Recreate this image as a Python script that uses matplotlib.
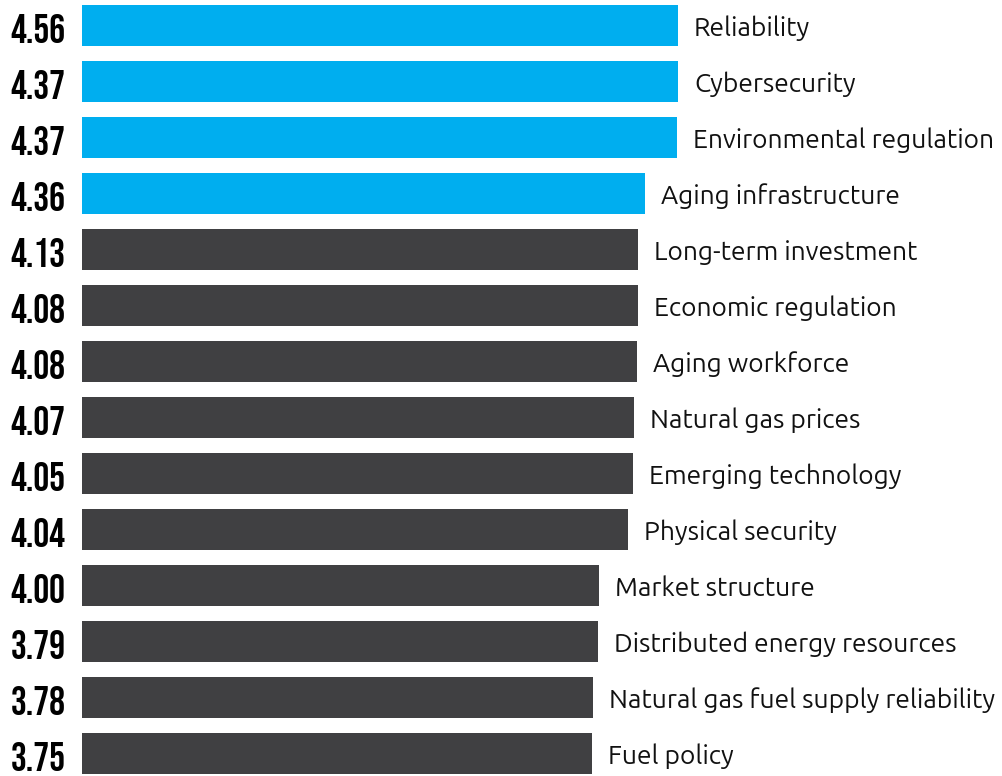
import matplotlib
matplotlib.use("Agg")
from matplotlib import pyplot as plt

labels = ["Reliability", "Cybersecurity", "Environmental regulation",
          "Aging infrastructure", "Long-term investment", "Economic regulation",
          "Aging workforce", "Natural gas prices", "Emerging technology",
          "Physical security", "Market structure", "Distributed energy resources",
          "Natural gas fuel supply reliability", "Fuel policy"]
scores = ["4.56", "4.37", "4.37", "4.36", "4.13", "4.08", "4.08", "4.07",
          "4.05", "4.04", "4.00", "3.79", "3.78", "3.75"]
# bar lengths as drawn in the original (not proportional to the scores)
bar_lengths = [596, 596, 595, 563, 556, 556, 555, 552, 551, 546, 517, 516, 511, 510]
highlighted = 4

BLUE = "#00AEEF"
GREY = "#404042"


def plot():
    fig = plt.figure(figsize=(10.02, 7.76), dpi=100)
    ax = fig.add_axes([82 / 1002, 0, 920 / 1002, 1])
    n = len(labels)
    colors = [BLUE if i < highlighted else GREY for i in range(n)]
    ax.barh(range(n), bar_lengths, height=0.73, color=colors)
    ax.set_xlim(0, 920)
    ax.set_ylim(13.4, -0.455)
    ax.axis("off")

    for i in range(n):
        ax.annotate(labels[i], (bar_lengths[i], i), xytext=(11.5, -7.5),
                    textcoords="offset points", va="baseline", ha="left",
                    fontsize=19, family=["Ubuntu", "Noto Sans"], color="#111111")
        ax.annotate(scores[i], (0, i), xytext=(-12, -12.6),
                    textcoords="offset points", va="baseline", ha="right",
                    fontsize=28.5, family=["Bebas Neue", "Oswald", "DejaVu Sans"],
                    color="#000000")

    fig.savefig("out.png", dpi=100)


if __name__ == "__main__":
    plot()
